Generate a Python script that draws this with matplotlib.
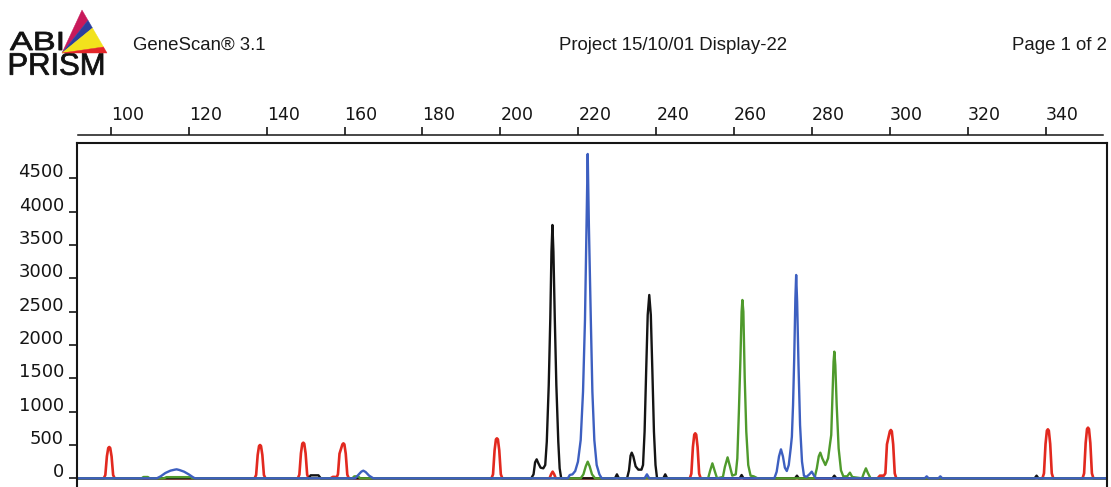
import matplotlib
matplotlib.use("Agg")
import matplotlib.pyplot as plt
from matplotlib.transforms import ScaledTranslation, IdentityTransform, Affine2D
from matplotlib.textpath import TextPath
from matplotlib.patches import PathPatch, Polygon
from matplotlib.font_manager import FontProperties

# ---------------------------------------------------------------- data
# size axis (bp) ticks and signal axis (RFU) ticks
size_ticks = list(range(100, 341, 20))
rfu_ticks = list(range(0, 4501, 500))

# red dye: size standard
red_size = [91.2,
            98.2, 98.6, 99.0, 99.35, 99.6, 99.85, 100.2, 100.6, 101.0,
            136.9, 137.3, 137.7, 138.05, 138.3, 138.55, 138.9, 139.3, 139.7,
            148.0, 148.4, 148.8, 149.15, 149.4, 149.65, 150.0, 150.4, 150.8,
            156.4, 157.0, 158.0, 158.3, 158.7, 159.45, 159.7, 159.95, 160.3, 160.7, 161.1,
            197.7, 198.1, 198.5, 198.85, 199.1, 199.35, 199.7, 200.1, 200.5,
            212.6, 213.0, 213.4, 213.8, 214.2,
            248.6, 249.0, 249.4, 249.75, 250.0, 250.25, 250.6, 251.0, 251.4,
            296.8, 297.4, 298.4, 298.8, 299.2, 299.95, 300.2, 300.45, 300.8, 301.2, 301.6,
            339.1, 339.5, 339.9, 340.25, 340.5, 340.75, 341.1, 341.5, 341.9,
            349.4, 349.8, 350.2, 350.55, 350.8, 351.05, 351.4, 351.8, 352.2,
            355.6]
red_rfu = [0,
           0, 50, 330, 455, 470, 455, 330, 50, 0,
           0, 50, 350, 485, 500, 485, 350, 50, 0,
           0, 55, 375, 520, 535, 520, 375, 55, 0,
           0, 22, 20, 60, 370, 510, 525, 510, 370, 55, 0,
           0, 60, 420, 585, 600, 585, 420, 60, 0,
           0, 60, 100, 60, 0,
           0, 70, 470, 655, 675, 655, 470, 70, 0,
           0, 40, 40, 75, 510, 705, 725, 705, 510, 75, 0,
           0, 75, 515, 715, 735, 715, 515, 75, 0,
           0, 75, 530, 740, 760, 740, 530, 75, 0,
           0]

# black dye
black_size = [91.2,
              150.8, 151.3, 153.3, 153.9,
              207.9, 208.5, 208.9, 209.3, 209.7, 210.3, 211.0, 211.5, 211.9, 212.4,
              212.8, 213.1, 213.35, 213.6, 213.95, 214.35, 214.85, 215.2, 215.6,
              229.4, 229.9, 230.4,
              232.5, 233.0, 233.4, 233.7, 234.1, 234.7, 235.4, 236.2, 236.6, 237.0,
              237.4, 237.8, 238.2, 238.6, 239.0, 239.4, 239.8, 240.2,
              241.8, 242.3, 242.8,
              261.4, 261.9, 262.4,
              275.6, 276.1, 276.6,
              285.2, 285.7, 286.2,
              337.1, 337.6, 338.1,
              355.6]
black_rfu = [0,
             0, 45, 45, 0,
             0, 60, 240, 285, 230, 160, 150, 200, 550, 1400,
             2400, 3400, 3800, 3400, 2400, 1400, 550, 150, 0,
             0, 60, 0,
             0, 120, 340, 385, 330, 180, 130, 130, 200, 700,
             1600, 2450, 2750, 2450, 1600, 700, 200, 0,
             0, 60, 0,
             0, 50, 0,
             0, 40, 0,
             0, 40, 0,
             0, 40, 0,
             0]

# green dye
green_size = [91.2,
              107.9, 108.4, 109.5, 110.0,
              113.6, 114.3, 120.5, 121.0,
              162.0, 162.5, 163.5, 164.0,
              220.6, 221.3, 221.9, 222.4, 222.9, 223.5, 224.3,
              253.3, 253.8, 254.4, 255.0, 255.6,
              257.1, 257.6, 258.3, 258.9, 259.5, 260.4, 260.8, 261.2, 261.6, 261.9,
              262.1, 262.35, 262.7, 263.1, 263.6, 264.2, 265.0, 266.0,
              280.6, 281.2, 281.7, 282.1, 282.6, 283.4, 284.1, 284.6, 284.9, 285.2,
              285.5, 285.7, 285.95, 286.3, 286.8, 287.4, 288.0, 289.0, 289.7, 290.3,
              292.8, 293.3, 293.8, 294.3, 295.0,
              355.6]
green_rfu = [0,
             0, 20, 20, 0,
             0, 18, 18, 0,
             0, 30, 30, 0,
             0, 60, 180, 250, 180, 60, 0,
             0, 110, 225, 110, 0,
             20, 170, 315, 180, 40, 60, 300, 1000, 1800, 2500,
             2675, 2500, 1500, 700, 200, 40, 30, 0,
             0, 150, 330, 385, 300, 200, 300, 520, 650, 1200,
             1750, 1900, 1700, 1100, 450, 120, 30, 30, 85, 20,
             0, 80, 150, 80, 0,
             0]

# blue dye
blue_size = [91.2,
             111.8, 112.8, 114.0, 115.3, 116.4, 116.9, 117.6, 118.8, 120.0, 121.0, 121.6,
             162.7, 163.5, 164.3, 164.8, 165.4, 166.3, 167.4,
             217.3, 217.8, 218.5, 219.2, 219.9, 220.6, 221.2, 221.7, 222.1, 222.4,
             222.7, 223.2, 223.6, 224.1, 224.7, 225.4, 226.0,
             237.0, 237.6, 238.2,
             270.3, 270.9, 271.5, 272.0, 272.5, 273.0, 273.5, 274.0, 274.5, 274.8,
             275.1, 275.4, 275.7, 275.9, 276.15, 276.5, 276.9, 277.4, 277.9, 278.5,
             279.3, 279.9, 280.5, 281.0,
             308.9, 309.4, 309.9,
             312.4, 312.9, 313.4,
             355.6]
blue_rfu = [0,
            0, 30, 80, 115, 130, 135, 125, 100, 60, 20, 0,
            0, 50, 100, 115, 95, 40, 0,
            0, 50, 60, 110, 250, 575, 1300, 2375, 3800, 4865,
            3800, 2375, 1300, 575, 200, 60, 0,
            0, 60, 0,
            0, 100, 330, 435, 330, 160, 110, 200, 450, 625,
            1100, 1800, 2700, 3050, 2650, 1700, 800, 250, 40, 20,
            60, 100, 40, 0,
            0, 30, 0,
            0, 30, 0,
            0]

# header texts
program_label = "GeneScan® 3.1"
project_label = "Project 15/10/01 Display-22"
page_label = "Page 1 of 2"

# ---------------------------------------------------------------- figure
W, H = 1111, 487
fig = plt.figure(figsize=(W / 100, H / 100), dpi=100)
fig.patch.set_facecolor("white")

ax = fig.add_axes([76.5 / W, 0.0, 1030.2 / W, (H - 143.3) / H])
ax.set_xlim(91.2, 355.6)
ax.set_ylim(-130, 5025)

dye_colors = {"black": "#141414", "green": "#4f9a2c", "red": "#e2291f", "blue": "#3d5fc0"}
lw = 1.7
ax.plot(red_size, red_rfu, color=dye_colors["red"], lw=lw + 0.2, solid_joinstyle="round")
ax.plot(black_size, black_rfu, color=dye_colors["black"], lw=lw, solid_joinstyle="round")
ax.plot(green_size, green_rfu, color=dye_colors["green"], lw=lw, solid_joinstyle="round")
ax.plot(blue_size, blue_rfu, color=dye_colors["blue"], lw=lw, solid_joinstyle="round")

# frame: left/right spines plus a closed top edge; bottom runs off the page
ink = "#151515"
for side in ("left", "right"):
    ax.spines[side].set_linewidth(1.5)
    ax.spines[side].set_color(ink)
ax.spines["bottom"].set_visible(False)
ax.plot([0, 1], [1, 1], transform=ax.transAxes, color=ink, lw=1.5,
        clip_on=False, solid_capstyle="projecting")

# size ruler floating above the frame
ax.xaxis.set_ticks_position("top")
ax.spines["top"].set_position(("outward", 6))
ax.spines["top"].set_bounds(91.6, 354.7)
ax.spines["top"].set_linewidth(1.1)
ax.spines["top"].set_color(ink)
ax.set_xticks(size_ticks)
ax.set_xticklabels([str(v) for v in size_ticks])
ax.tick_params(axis="x", which="major", direction="out", length=5.8, width=1.2,
               color=ink, pad=1.8, labelsize=12.5, labelcolor="#151515")
for lab in ax.get_xticklabels():
    lab.set_horizontalalignment("left")
    lab.set_fontfamily("DejaVu Sans")

# signal scale on the left
ax.set_yticks(rfu_ticks)
ax.set_yticklabels([str(v) for v in rfu_ticks])
ax.tick_params(axis="y", which="major", direction="out", length=6.0, width=1.2,
               color=ink, pad=3.0, labelsize=13, labelcolor="#151515")
lift = ScaledTranslation(0, 0.08, fig.dpi_scale_trans)
for lab in ax.get_yticklabels():
    lab.set_transform(lab.get_transform() + lift)
    lab.set_fontfamily("DejaVu Sans")

# ---------------------------------------------------------------- header
head_font = dict(family="Liberation Sans", size=13.4, color="#1a1a1a")
fig.text(133 / W, 1 - 45 / H, program_label, ha="left", va="center", **head_font)
fig.text(673 / W, 1 - 45 / H, project_label, ha="center", va="center", **head_font)
fig.text(1107 / W, 1 - 45.5 / H, page_label, ha="right", va="center", **head_font)


def boxed_word(word, x0, top, x1, bottom, color="#111111"):
    """Draw a word stretched to fill a pixel box (y measured from the top)."""
    tp = TextPath((0, 0), word, size=100, prop=FontProperties(family="Liberation Sans"))
    bb = tp.get_extents()
    tr = (Affine2D().translate(-bb.x0, -bb.y0)
          .scale((x1 - x0) / bb.width, (bottom - top) / bb.height)
          .translate(x0, H - bottom))
    fig.add_artist(PathPatch(tr.transform_path(tp), transform=IdentityTransform(),
                             fc=color, ec=color, lw=0.6))


boxed_word("ABI", 10, 32, 62, 50)
boxed_word("PRISM", 10, 53, 103, 75)

# striped prism triangle: fan of bands from the lower-left corner
V = (62.0, 53.0)
A = (82.0, 10.0)
B = (107.0, 53.0)
bands = [(0.00, 0.24, "#c8195a"), (0.24, 0.42, "#2b3f9e"),
         (0.42, 0.86, "#f2e21c"), (0.86, 1.00, "#e3262a")]
for t0, t1, col in bands:
    p0 = (A[0] + t0 * (B[0] - A[0]), A[1] + t0 * (B[1] - A[1]))
    p1 = (A[0] + t1 * (B[0] - A[0]), A[1] + t1 * (B[1] - A[1]))
    pts = [(V[0], H - V[1]), (p0[0], H - p0[1]), (p1[0], H - p1[1])]
    fig.add_artist(Polygon(pts, closed=True, transform=IdentityTransform(),
                           fc=col, ec=col, lw=0.3))

fig.savefig("out.png", dpi=100)
